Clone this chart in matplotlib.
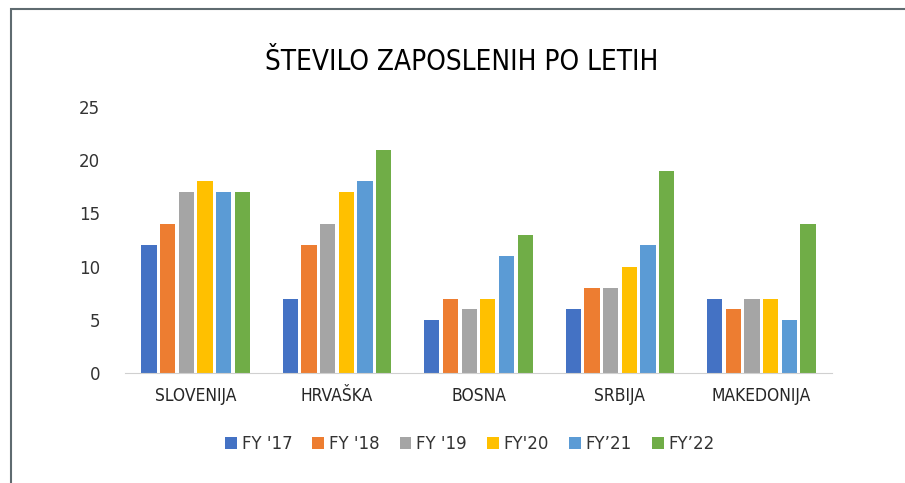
import numpy as np
import matplotlib.pyplot as plt
from matplotlib.patches import Rectangle

categories = ["SLOVENIJA", "HRVAŠKA", "BOSNA", "SRBIJA", "MAKEDONIJA"]
series = ["FY '17", "FY '18", "FY '19", "FY'20", "FY\u201921", "FY\u201922"]
fy17 = [12, 7, 5, 6, 7]
fy18 = [14, 12, 7, 8, 6]
fy19 = [17, 14, 6, 8, 7]
fy20 = [18, 17, 7, 10, 7]
fy21 = [17, 18, 11, 12, 5]
fy22 = [17, 21, 13, 19, 14]
colors = ["#4472C4", "#ED7D31", "#A5A5A5", "#FFC000", "#5B9BD5", "#70AD47"]

values = [fy17, fy18, fy19, fy20, fy21, fy22]

fig = plt.figure(figsize=(9.05, 4.83), dpi=100)
# frame of the chart area (cut off on the right and bottom)
fig.patches.append(Rectangle((11 / 905, -0.1), 1.2, 1 - 9 / 483 + 0.1,
                             transform=fig.transFigure, fill=False,
                             edgecolor="#5f6b70", linewidth=1.5))

ax = fig.add_axes([125 / 905, 1 - 373 / 483, (832 - 125) / 905, (373 - 107) / 483])

x = np.arange(len(categories))
n = len(series)
step = 0.132
width = 0.108
for i, (name, vals) in enumerate(zip(series, values)):
    ax.bar(x + (i - (n - 1) / 2) * step, vals, width, color=colors[i], label=name)

ax.set_xlim(-0.5, len(categories) - 0.5)
ax.set_ylim(0, 25)
ax.set_yticks(range(0, 26, 5))
ax.set_xticks(x)
ax.set_xticklabels(categories, fontsize=12.5, fontstretch="condensed", color="#262626")
ax.tick_params(axis="y", labelsize=12, length=0, pad=18, labelcolor="#333333")
ax.tick_params(axis="x", length=0, pad=10)
for s in ["top", "right", "left"]:
    ax.spines[s].set_visible(False)
ax.spines["bottom"].set_color("#d0d0d0")

fig.text(462 / 905, 1 - 62 / 483, "ŠTEVILO ZAPOSLENIH PO LETIH", ha="center", va="center",
         fontsize=20, fontweight="normal", fontstretch="condensed", color="#000000")

fig.legend(loc="center", bbox_to_anchor=(470 / 905, 1 - 444 / 483), ncol=6, frameon=False,
           fontsize=12, handlelength=0.7, handleheight=0.7, handletextpad=0.3,
           columnspacing=1.2, labelcolor="#333333")

fig.savefig("out.png", dpi=100, facecolor="white")
